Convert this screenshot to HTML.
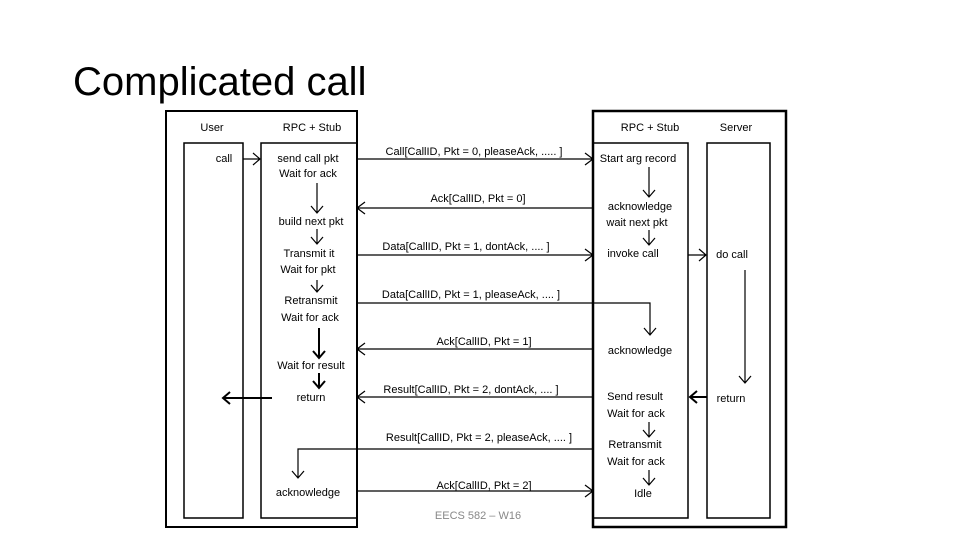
<!DOCTYPE html>
<html><head><style>
body{margin:0;background:#fff;width:960px;height:540px;overflow:hidden}
svg text{font-family:"Liberation Sans",sans-serif;fill:#000}
</style></head><body>
<svg width="960" height="540" viewBox="0 0 960 540" xmlns="http://www.w3.org/2000/svg">
<text x="73" y="95" font-size="40">Complicated call</text>
<g fill="none" stroke="#000" stroke-width="1.5">
<rect x="166" y="111" width="191" height="416" stroke-width="2"/>
<rect x="184" y="143" width="59" height="375"/>
<rect x="261" y="143" width="96" height="375"/>
<rect x="593" y="111" width="193" height="416" stroke-width="2.5"/>
<rect x="593" y="143" width="95" height="375"/>
<rect x="707" y="143" width="63" height="375"/>
</g>
<g font-size="11" text-anchor="middle">
<text x="212" y="131">User</text>
<text x="312" y="131">RPC + Stub</text>
<text x="650" y="131">RPC + Stub</text>
<text x="736" y="131">Server</text>
<text x="224" y="162">call</text>
<text x="308" y="162">send call pkt</text>
<text x="308" y="177">Wait for ack</text>
<text x="311" y="225">build next pkt</text>
<text x="309" y="257">Transmit it</text>
<text x="308" y="273">Wait for pkt</text>
<text x="311" y="304">Retransmit</text>
<text x="310" y="321">Wait for ack</text>
<text x="311" y="369">Wait for result</text>
<text x="311" y="401">return</text>
<text x="308" y="496">acknowledge</text>
<text x="638" y="162">Start arg record</text>
<text x="640" y="210">acknowledge</text>
<text x="637" y="226">wait next pkt</text>
<text x="633" y="257">invoke call</text>
<text x="732" y="258">do call</text>
<text x="640" y="354">acknowledge</text>
<text x="635" y="400">Send result</text>
<text x="636" y="417">Wait for ack</text>
<text x="635" y="448">Retransmit</text>
<text x="636" y="465">Wait for ack</text>
<text x="643" y="497">Idle</text>
<text x="731" y="402">return</text>
<text x="474" y="155">Call[CallID, Pkt = 0, pleaseAck, ..... ]</text>
<text x="478" y="202">Ack[CallID, Pkt = 0]</text>
<text x="466" y="250">Data[CallID, Pkt = 1, dontAck, .... ]</text>
<text x="471" y="298">Data[CallID, Pkt = 1, pleaseAck, .... ]</text>
<text x="484" y="345">Ack[CallID, Pkt = 1]</text>
<text x="471" y="393">Result[CallID, Pkt = 2, dontAck, .... ]</text>
<text x="479" y="441">Result[CallID, Pkt = 2, pleaseAck, .... ]</text>
<text x="484" y="489">Ack[CallID, Pkt = 2]</text>
<text x="478" y="519" font-size="11" fill="#777" style="fill:#888">EECS 582 – W16</text>
</g>
<g fill="none" stroke="#000" stroke-width="1.2">
<!-- messages -->
<path d="M357 159H593M585 153L593 159L585 165"/>
<path d="M593 208H357M365 202L357 208L365 214"/>
<path d="M357 255H593M585 249L593 255L585 261"/>
<path d="M357 303H650V335M644 328L650 335L656 328"/>
<path d="M593 349H357M365 343L357 349L365 355"/>
<path d="M593 397H357M365 391L357 397L365 403"/>
<path d="M593 449H298V478M292 471L298 478L304 471"/>
<path d="M357 491H593M585 485L593 491L585 497"/>
<!-- local -->
<path d="M243 159H259M253 153L260 159L253 165"/>
<path d="M317 183V213M311 206L317 213L323 206"/>
<path d="M317 229V244M311 237L317 244L323 237"/>
<path d="M317 280V292M311 285L317 292L323 285"/>
<path d="M319 328V358M313 351L319 358L325 351" stroke-width="2"/>
<path d="M319 373V388M313 381L319 388L325 381" stroke-width="2"/>
<path d="M272 398H223M230 392L223 398L230 404" stroke-width="2"/>
<path d="M649 167V197M643 190L649 197L655 190"/>
<path d="M649 230V245M643 238L649 245L655 238"/>
<path d="M688 255H705M699 249L706 255L699 261"/>
<path d="M745 270V383M739 376L745 383L751 376"/>
<path d="M707 397H690M697 391L690 397L697 403" stroke-width="2"/>
<path d="M649 422V437M643 430L649 437L655 430"/>
<path d="M649 470V485M643 478L649 485L655 478"/>
</g>
</svg>
</body></html>
